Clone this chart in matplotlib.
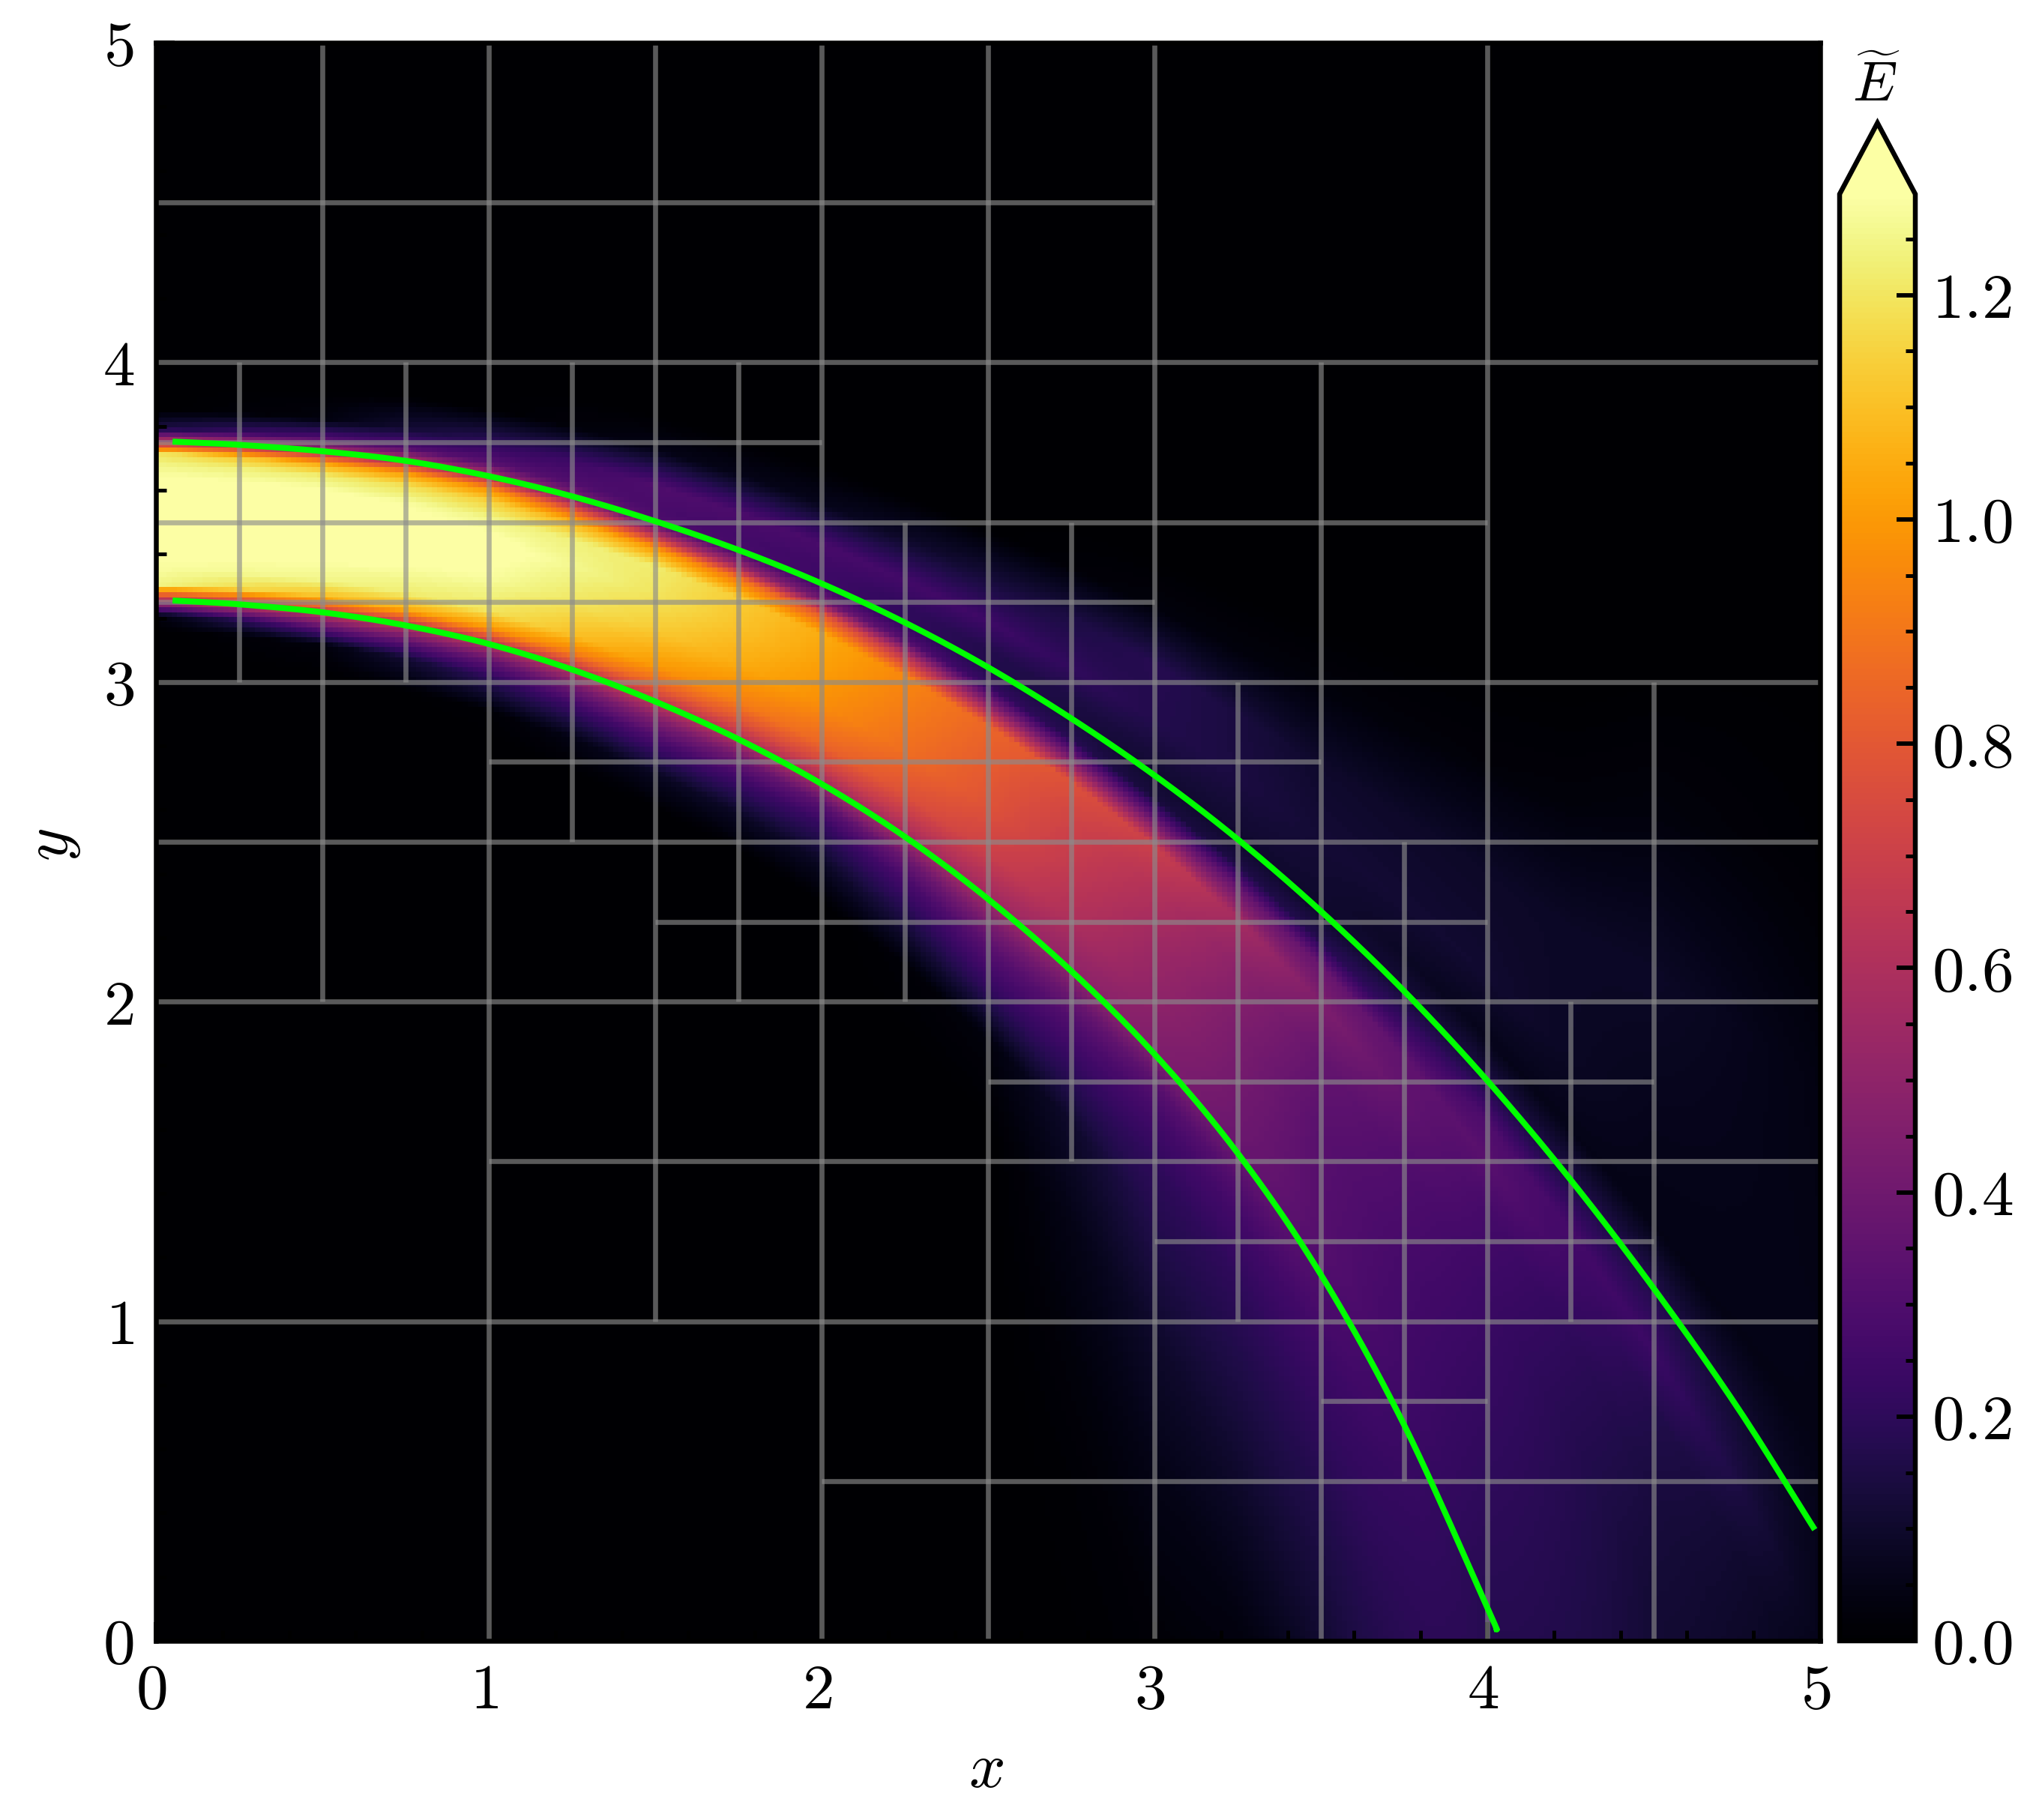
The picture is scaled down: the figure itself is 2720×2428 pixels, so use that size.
import numpy as np
import matplotlib
matplotlib.use("Agg")
import matplotlib.pyplot as plt
from matplotlib.transforms import ScaledTranslation

plt.rcParams['mathtext.fontset'] = 'cm'
plt.rcParams['font.family'] = ['cmr10', 'DejaVu Sans']
plt.rcParams['axes.formatter.use_mathtext'] = True

W, H, DPI = 2720, 2429, 300

# Green boundary curves
upper_x = [0.05, 0.25, 0.5, 0.75, 1.0, 1.25, 1.5, 1.75, 2.0, 2.25, 2.5, 2.75, 3.0, 3.25, 3.5, 3.75, 4.0, 4.25, 4.5, 4.75, 4.984]
upper_y = [3.752, 3.742, 3.722, 3.692, 3.644, 3.581, 3.503, 3.413, 3.308, 3.186, 3.046, 2.886, 2.708, 2.508, 2.283, 2.033, 1.753, 1.443, 1.103, 0.733, 0.348]
lower_x = [0.05, 0.25, 0.5, 0.75, 1.0, 1.25, 1.5, 1.75, 2.0, 2.25, 2.5, 2.75, 3.0, 3.25, 3.5, 3.75, 4.0, 4.03]
lower_y = [3.255, 3.243, 3.218, 3.177, 3.119, 3.039, 2.939, 2.821, 2.681, 2.516, 2.321, 2.096, 1.836, 1.526, 1.146, 0.676, 0.104, 0.03]

# Off-plot continuation of the lower curve, only used to lay out the field table
lower_ext_x = [4.25, 4.5, 4.75, 5.0]
lower_ext_y = [-0.5, -1.35, -2.25, -3.2]

# Energy; w = 0 on the lower curve, w = 1 on the upper curve
field_x = [0.0, 0.5, 1.0, 1.5, 2.0, 2.5, 3.0, 3.5, 4.0, 4.5, 5.0]
field_w = [-3, -2, -1.5, -1, -0.6, -0.4, -0.2, -0.1, 0, 0.1, 0.2, 0.4, 0.6, 0.75, 0.85, 0.92, 1, 1.08, 1.2, 1.4, 1.6, 1.8]
E_x00 = [0, 0, 0, 0, 0, 0, 0, 0.03, 0.6, 1.25, 1.28, 1.32, 1.34, 1.3, 1.25, 1.2, 0.6, 0.15, 0, 0, 0, 0]
E_x05 = [0, 0, 0, 0, 0, 0, 0.03, 0.33, 0.65, 1.1, 1.25, 1.32, 1.34, 1.3, 1.22, 1.05, 0.6, 0.3, 0.03, 0, 0, 0]
E_x10 = [0, 0, 0, 0, 0, 0.01, 0.2, 0.35, 0.6, 1.0, 1.2, 1.28, 1.32, 1.25, 1.15, 1.0, 0.6, 0.33, 0.2, 0, 0, 0]
E_x15 = [0, 0, 0, 0, 0, 0.08, 0.3, 0.45, 0.65, 0.85, 1.0, 1.13, 1.2, 1.22, 1.0, 0.65, 0.3, 0.28, 0.3, 0.05, 0, 0]
E_x20 = [0, 0, 0, 0, 0, 0.08, 0.22, 0.33, 0.55, 0.72, 0.85, 0.97, 1.02, 1.05, 0.8, 0.4, 0.25, 0.25, 0.28, 0.06, 0, 0]
E_x25 = [0, 0, 0, 0, 0.03, 0.2, 0.33, 0.43, 0.55, 0.62, 0.7, 0.78, 0.82, 0.85, 0.45, 0.22, 0.17, 0.17, 0.25, 0.12, 0, 0]
E_x30 = [0, 0.02, 0.05, 0.1, 0.17, 0.2, 0.27, 0.33, 0.45, 0.47, 0.5, 0.55, 0.62, 0.7, 0.35, 0.13, 0.11, 0.13, 0.17, 0.18, 0.03, 0]
E_x35 = [0, 0, 0.02, 0.11, 0.17, 0.21, 0.25, 0.28, 0.3, 0.32, 0.32, 0.33, 0.37, 0.45, 0.38, 0.17, 0.1, 0.11, 0.12, 0.1, 0.03, 0]
E_x40 = [0.18, 0.18, 0.18, 0.18, 0.18, 0.18, 0.18, 0.18, 0.18, 0.19, 0.2, 0.22, 0.24, 0.27, 0.33, 0.3, 0.15, 0.06, 0.11, 0.09, 0.02, 0]
E_x45 = [0.12, 0.12, 0.12, 0.12, 0.12, 0.12, 0.12, 0.12, 0.12, 0.12, 0.12, 0.12, 0.12, 0.14, 0.17, 0.24, 0.17, 0.05, 0.06, 0.09, 0.03, 0]
E_x50 = [0.05, 0.05, 0.05, 0.05, 0.05, 0.05, 0.05, 0.05, 0.05, 0.05, 0.05, 0.05, 0.05, 0.05, 0.05, 0.06, 0.06, 0.05, 0.05, 0.04, 0.01, 0]

# Mesh cell boundaries: (x, y0, y1) and (y, x0, x1)
vertical_x = [0.25, 0.5, 0.75, 1.0, 1.25, 1.5, 1.75, 2.0, 2.25, 2.5, 2.75, 3.0, 3.25, 3.5, 3.75, 4.0, 4.25, 4.5]
vertical_y0 = [3.0, 2.0, 3.0, 0.0, 2.5, 1.0, 2.0, 0.0, 2.0, 0.0, 1.5, 0.0, 1.0, 0.0, 0.5, 0.0, 1.0, 0.0]
vertical_y1 = [4.0, 5.0, 4.0, 5.0, 4.0, 5.0, 4.0, 5.0, 3.5, 5.0, 3.5, 5.0, 3.0, 4.0, 2.5, 5.0, 2.0, 3.0]
horizontal_y = [4.5, 4.0, 3.75, 3.5, 3.25, 3.0, 2.75, 2.5, 2.25, 2.0, 1.75, 1.5, 1.25, 1.0, 0.75, 0.5]
horizontal_x0 = [0.0, 0.0, 0.0, 0.0, 0.0, 0.0, 1.0, 0.0, 1.5, 0.0, 2.5, 1.0, 3.0, 0.0, 3.5, 2.0]
horizontal_x1 = [3.0, 5.0, 2.0, 4.0, 3.0, 5.0, 3.5, 5.0, 4.0, 5.0, 4.5, 5.0, 4.5, 5.0, 4.0, 5.0]

axis_ticks = [0, 1, 2, 3, 4, 5]
cbar_ticks = [0.0, 0.2, 0.4, 0.6, 0.8, 1.0, 1.2]
VMAX = 1.29
N = 320


def smooth_through(xs, ys, sub=12):
    """Catmull-Rom rendering of a polyline: passes through every read value."""
    p = np.column_stack([xs, ys])
    p = np.vstack([2 * p[0] - p[1], p, 2 * p[-1] - p[-2]])
    t = np.linspace(0, 1, sub, endpoint=False)[:, None]
    out = []
    for i in range(1, len(p) - 2):
        p0, p1, p2, p3 = p[i - 1], p[i], p[i + 1], p[i + 2]
        out.append(0.5 * (2 * p1 + (p2 - p0) * t + (2 * p0 - 5 * p1 + 4 * p2 - p3) * t ** 2
                          + (3 * p1 - p0 - 3 * p2 + p3) * t ** 3))
    out.append(p[-2][None, :])
    out = np.vstack(out)
    return out[:, 0], out[:, 1]


# Build the image from the tables
E_rows = np.array([E_x00, E_x05, E_x10, E_x15, E_x20, E_x25, E_x30, E_x35, E_x40, E_x45, E_x50])
cx = (np.arange(N) + 0.5) * 5 / N
cy = (np.arange(N) + 0.5) * 5 / N
L = np.interp(cx, lower_x[:-1] + lower_ext_x, lower_y[:-1] + lower_ext_y)
U = np.interp(cx, upper_x + [5.0], upper_y + [0.31])
img = np.zeros((N, N))
for i, x in enumerate(cx):
    w = (cy - L[i]) / (U[i] - L[i])
    k = min(int(x / 0.5), len(field_x) - 2)
    f = (x - field_x[k]) / (field_x[k + 1] - field_x[k])
    img[:, i] = (1 - f) * np.interp(w, field_w, E_rows[k], left=0, right=0) + \
        f * np.interp(w, field_w, E_rows[k + 1], left=0, right=0)

fig = plt.figure(figsize=(W / DPI, H / DPI), dpi=DPI, facecolor='white')
ax = fig.add_axes([208 / W, 1 - 2190 / H, 2220 / W, 2132 / H])
im = ax.imshow(img, origin='lower', extent=(0, 5, 0, 5), aspect='auto', cmap='inferno',
               vmin=0, vmax=VMAX, interpolation='nearest', zorder=1)

grid_rgba = (140 / 255, 140 / 255, 140 / 255, 0.64)
ax.vlines(vertical_x, vertical_y0, vertical_y1, colors=[grid_rgba], linewidth=1.6, zorder=3, capstyle='butt')
ax.hlines(horizontal_y, horizontal_x0, horizontal_x1, colors=[grid_rgba], linewidth=1.6, zorder=3, capstyle='butt')

ux, uy = smooth_through(upper_x, upper_y)
lx, ly = smooth_through(lower_x, lower_y)
ax.plot(ux, uy, color='#00ff00', lw=1.9, solid_capstyle='butt', solid_joinstyle='round', zorder=4)
ax.plot(lx, ly, color='#00ff00', lw=1.9, solid_capstyle='butt', solid_joinstyle='round', zorder=4)

ax.set_xlim(0, 5)
ax.set_ylim(0, 5)
ax.set_xticks(axis_ticks)
ax.set_yticks(axis_ticks)
ax.set_xticklabels([f'${t}$' for t in axis_ticks], fontsize=20.5)
ax.set_yticklabels([f'${t}$' for t in axis_ticks], fontsize=20.5)
ax.set_xticks(np.arange(0, 5.01, 0.2), minor=True)
ax.set_yticks(np.arange(0, 5.01, 0.2), minor=True)
ax.tick_params(which='major', direction='in', length=6, width=1.4, color='black')
ax.tick_params(which='minor', direction='in', length=3.3, width=1.2, color='black')
ax.tick_params(axis='x', which='major', pad=7.2)
ax.tick_params(axis='y', which='major', pad=7)
for s in ax.spines.values():
    s.set_linewidth(1.56)
    s.set_zorder(5)
shift = ScaledTranslation(-6 / DPI, 0, fig.dpi_scale_trans)
for lab in ax.get_xticklabels():
    lab.set_transform(lab.get_transform() + shift)

fig.text(1315 / W, 1 - 2363 / H, '$x$', fontsize=20.5, ha='center', va='center')
fig.text(73 / W, 1 - 1127 / H, '$y$', fontsize=20.5, ha='center', va='center', rotation=90)

cax = fig.add_axes([2454 / W, 1 - 2190 / H, 101 / W, (2190 - 165) / H])
cb = fig.colorbar(im, cax=cax, extend='max', extendfrac=0.0492, extendrect=False)
cb.outline.set_linewidth(1.56)
cb.set_ticks(cbar_ticks)
cb.set_ticklabels([f'${t:.1f}$' for t in cbar_ticks], fontsize=20.5)
cb.set_ticks(np.arange(0, 1.2501, 0.05), minor=True)
cax.yaxis.set_ticks_position('right')
cax.tick_params(which='major', direction='in', length=6, width=1.4, color='black', pad=5.2)
cax.tick_params(which='minor', direction='in', length=3.1, width=1.2, color='black')

fig.text(2503 / W, 1 - 114 / H, r'$\widetilde{E}$', fontsize=18, ha='center', va='center')

fig.savefig('out.png', dpi=DPI, facecolor='white')
